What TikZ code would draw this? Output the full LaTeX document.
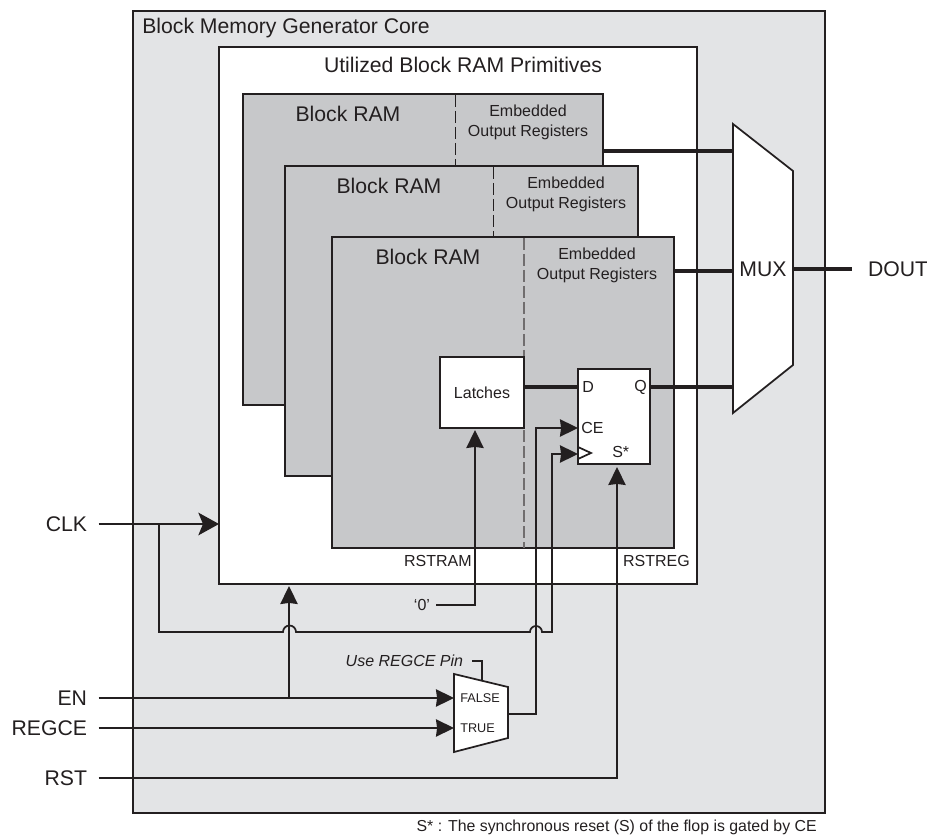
\documentclass[tikz,border=0pt]{standalone}
\usepackage{fontspec}
\setmainfont{Liberation Sans}
\usetikzlibrary{arrows.meta}
\definecolor{coregray}{HTML}{E3E4E6}
\definecolor{ramgray}{HTML}{C7C8CA}
\definecolor{inkdark}{HTML}{231F20}
\tikzset{
  sized/.style 2 args={minimum width=(#1)*0.75pt,minimum height=(#2)*0.75pt},
  block/.style={draw=inkdark,line width=1.3pt,rectangle,inner sep=0pt,outer sep=0pt,anchor=north west},
  wire/.style={draw=inkdark,line width=1.3pt},
  thinwire/.style={draw=inkdark,line width=1pt},
  bus/.style={draw=inkdark,line width=2.5pt},
  tip/.style={-{Stealth[length=13.5pt,width=13pt,inset=0.8pt]}},
  bigtip/.style={-{Stealth[length=15.5pt,width=17pt,inset=3.5pt]}},
  big/.style={text=inkdark,font=\fontsize{15.9}{18}\selectfont,inner sep=0pt},
  mid/.style={text=inkdark,font=\fontsize{12}{14.7}\selectfont,inner sep=0pt},
  small/.style={text=inkdark,font=\fontsize{9.5}{11}\selectfont,inner sep=0pt},
  pinlabel/.style={big,anchor=east,outer sep=8.6pt},
  ramdash/.style={dash pattern=on 9pt off 3pt,line width=0.7pt,draw=inkdark},
}
\begin{document}
\begin{tikzpicture}[x=0.75pt,y=-0.75pt] % 1 unit = 1 pixel of the drawing
\useasboundingbox (0,0) rectangle (927,837);

% --------- BLOCKS ----------
\node (core) [block,fill=coregray,sized={692}{802}] at (133,11) {};
\node (prims) [block,fill=white,sized={478}{537}] at (219,47) {};
\node (coretitle) [big,anchor=west] at (142,28) {Block Memory Generator Core};
\node (primstitle) [big] at (463,65) {Utilized Block RAM Primitives};

% Block RAM stack (name/left/top/right/bottom/dash/title)
\foreach \n/\l/\t/\r/\b/\d/\c in {a/243/94/603/405/455/348,b/285/166/638/476/493/389,c/332/237/674/548/524/428}{
  \node (ram\n) [block,fill=ramgray,sized={\r-\l}{\b-\t}] at (\l,\t) {};
  \node (ramtitle\n) [big,anchor=center] at (\c,\t+19.5) {Block RAM};
  \node (regs\n) [mid,align=center] at (\d+73,\t+28.5) {Embedded\\Output Registers};
}
% Dashes stop where the next RAM starts
\draw[ramdash] (455,95) -- (455,166);
\draw[ramdash] (493,167) -- (493,237);
\draw[ramdash,line width=1.1pt,draw=inkdark!65] (524,238) -- (524,548);

\node (latches) [block,fill=white,sized={84}{71}] at (440,357) {};
\node (latchestext) [mid] at (482,393) {Latches};
\node (flop) [block,fill=white,sized={72}{95}] at (578,369) {};
\node (pind) [mid,anchor=west] at (582,387) {D};
\node (pinq) [mid,anchor=east] at (647,387) {Q};
\node (pince) [mid,anchor=west] at (581,428) {CE};
\node (pins) [mid,anchor=west] at (612,452) {S*};
\draw[wire] (578,447) -- (591,453) -- (578,459);

\node (rstram) [mid,anchor=east] at (472,561) {RSTRAM};
\node (rstreg) [mid,anchor=east] at (690,561) {RSTREG};

% Output multiplexer
\draw[wire,fill=white] (733,124) -- (793,171) -- (793,365) -- (733,413) -- cycle;
\node (mux) [big] at (763,269) {MUX};
\coordinate (muxina) at (733,151);
\coordinate (muxinb) at (733,271);
\coordinate (muxinc) at (733,387);
\coordinate (muxout) at (793,269);

% Small select multiplexer
\draw[wire,fill=white] (454,674) -- (508,687) -- (508,738) -- (454,752) -- cycle;
\node (selfalse) [small,anchor=west] at (460,698) {FALSE};
\node (seltrue) [small,anchor=west] at (460,728) {TRUE};
\coordinate (selina) at (454,698);
\coordinate (selinb) at (454,728);
\coordinate (selout) at (508,714);
\coordinate (seltop) at (482,680);

% --------- LABELS ----------
\node (clk) [pinlabel] at (98.5,524) {CLK};
\node (en) [pinlabel] at (98.5,698) {EN};
\node (regce) [pinlabel] at (98.5,728) {REGCE};
\node (rst) [pinlabel] at (98.5,778) {RST};
\node (dout) [big,anchor=west,outer sep=12pt] at (852,269) {DOUT};
\node (zero) [mid,anchor=east,outer sep=4.5pt] at (436,605) {‘0’};
\node (usepin) [mid,anchor=east,outer sep=6.7pt,font=\fontsize{12}{14}\selectfont\itshape] at (472,661) {Use REGCE Pin};
\node (note) [mid,anchor=east,font=\fontsize{11.9}{14}\selectfont] at (817,827) {S* : The synchronous reset (S) of the flop is gated by CE};

% --------- WIRES ----------
\coordinate (clkjoin) at (159,524);
\coordinate (enjoin) at (289,698);
\coordinate (primsen) at (289,586);
\coordinate (latchrst) at (475,430);
\coordinate (flopce) at (578,428);
\coordinate (flopclk) at (578,454);
\coordinate (floprst) at (617,467);

% Data buses
\draw[bus] (latches.east |- 0,387) -- (flop.west |- 0,387);
\draw[bus] (flop.east |- muxinc) -- (muxinc);
\draw[bus] (rama.east |- muxina) -- (muxina);
\draw[bus] (ramc.east |- muxinb) -- (muxinb);
\draw[bus] (muxout) -- (dout.west);

% Control inputs
\draw[wire,bigtip] (clk.east) -- (prims.west |- clk.east);
\draw[wire,tip] (clkjoin) |- (283,632) arc (180:360:6.5) -- (530,632) arc (180:360:6) -- (552,632) |- (flopclk);
\draw[wire,tip] (en.east) -- (selina);
\draw[wire,tip] (enjoin) -- (primsen);
\draw[thinwire,tip] (regce.east) -- (selinb);
\draw[wire,tip] (selout) -| (536,428) -- (flopce);
\draw[thinwire,tip] (rst.east) -| (floprst);
\draw[wire,tip] (zero.east) -| (latchrst);
\draw[wire] (usepin.east) -| (seltop);
\end{tikzpicture}
\end{document}
